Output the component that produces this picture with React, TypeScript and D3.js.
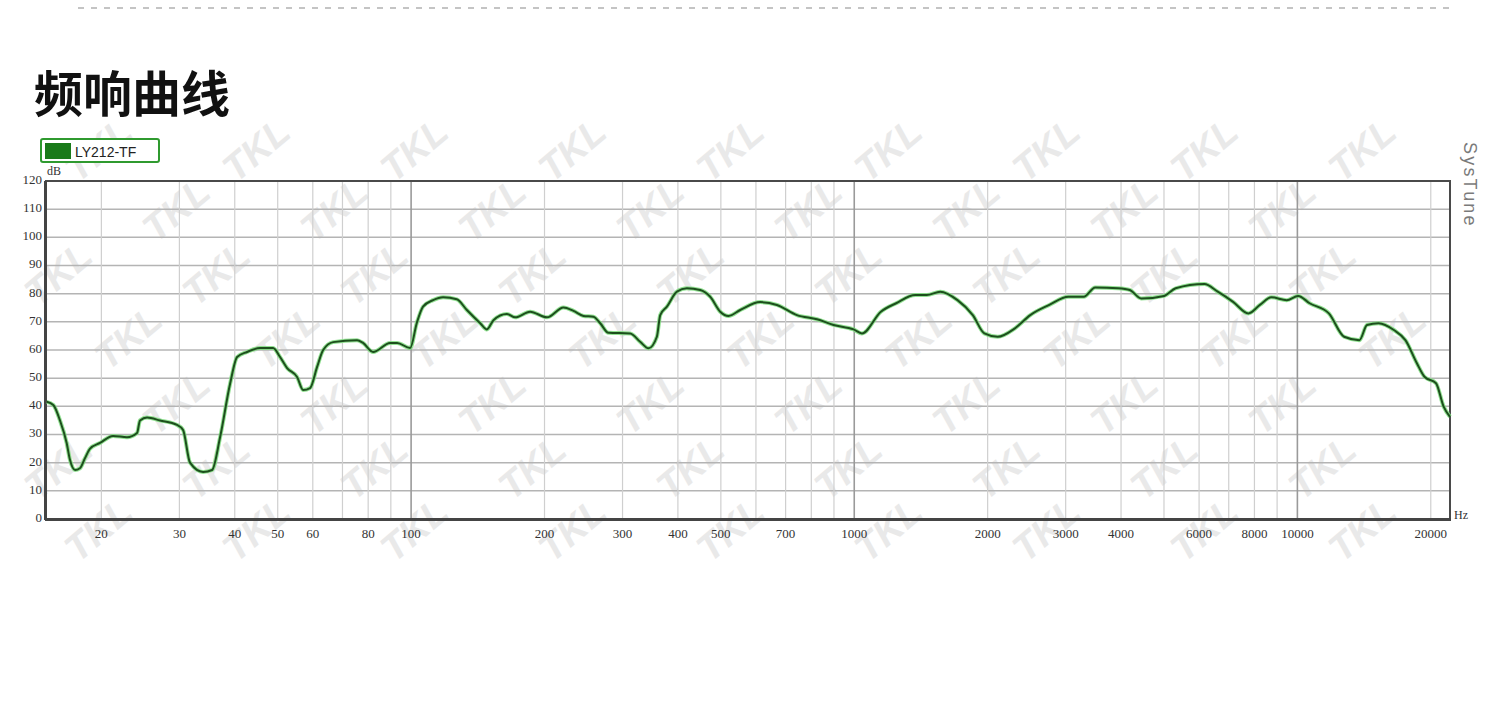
import React from "react";
import * as d3 from "d3";

// ---- data ----
const FREQ_HZ = [
  15.06, 15.58, 16.13, 16.7, 16.99, 17.44, 17.89, 18.37, 18.86, 19.86, 21.25, 22.85, 24.07, 24.45, 25.36,
  27.13, 29.64, 30.58, 31.7, 33.93, 35.55, 37.06, 39.04, 40.49, 42.64, 45.62, 48.82, 50.62, 52.5, 55.3,
  57.05, 59.16, 61.36, 63.32, 66.68, 75.53, 77.91, 82.07, 89.66, 92.99, 99.5, 103.0, 106.4, 112.1, 118.1,
  126.8, 133.6, 143.2, 148.2, 153.4, 164.4, 171.7, 185.6, 202.5, 220.7, 232.5, 244.9, 257.9, 267.1, 278.9,
  312.2, 328.8, 343.4, 358.6, 364.9, 377.8, 397.9, 419.1, 449.1, 473.1, 498.4, 520.5, 552.9, 613.5, 669.1,
  742.5, 823.9, 898.0, 996.4, 1040.9, 1148.4, 1243.4, 1373.3, 1457.9, 1563.6, 1710.0, 1851.3, 1966.3, 2106.9,
  2304.8, 2496.0, 2755.3, 3042.7, 3295.1, 3498.6, 3943.0, 4185.5, 4442.0, 5003.0, 5312.0, 6167.0, 6611.0,
  7160.0, 7752.0, 8230.0, 8737.0, 9460.0, 10040, 10654, 11776, 12750, 13804, 14360, 15247, 16510, 17530,
  18607, 19358, 20550, 21380, 22100,
];
const LEVEL_DB = [
  41.6, 40.5, 35, 27, 21, 17.4, 18, 21.6, 25, 27, 29.5, 29, 30.5, 35, 36,
  35, 33.4, 31.6, 20, 16.7, 17.4, 29, 48, 57.5, 59.3, 60.7, 60.7, 57.5, 53.6, 50.4,
  45.8, 46.5, 54, 60, 62.8, 63.5, 62.5, 59.3, 62.5, 62.5, 60.7, 69.6, 75.4, 77.7, 78.7,
  78, 74.2, 69.5, 67.3, 70.6, 72.8, 71.6, 73.6, 71.6, 75.1, 73.9, 72.1, 71.8, 69.5, 66.1,
  65.9, 62.9, 60.6, 64.7, 72.4, 75.4, 80.7, 81.9, 81.3, 78.9, 73.6, 72.1, 74.2, 77, 76,
  72.4, 70.9, 68.9, 67.3, 65.9, 73.6, 76.6, 79.5, 79.5, 80.7, 77.7, 72.4, 65.9, 64.7,
  67.7, 72.4, 76, 78.9, 78.9, 82.2, 81.9, 81.3, 78.3, 79.2, 81.9, 83.4, 80.7,
  77.1, 73, 76, 78.7, 77.7, 79.2, 76.6, 73, 64.7, 63.5, 68.9, 69.5, 67.1, 63.5,
  55.3, 50.5, 48.2, 39.9, 36.3,
];
const X_TICK_LABELS = [20, 30, 40, 50, 60, 80, 100, 200, 300, 400, 500, 700, 1000, 2000, 3000, 4000, 6000, 8000, 10000, 20000];
const Y_TICKS = [0, 10, 20, 30, 40, 50, 60, 70, 80, 90, 100, 110, 120];
const X_GRID = [20, 30, 40, 50, 60, 70, 80, 90, 100, 200, 300, 400, 500, 600, 700, 800, 900, 1000, 2000, 3000, 4000, 5000, 6000, 7000, 8000, 9000, 10000, 20000];
const X_MAJOR = [100, 1000, 10000];
const SERIES_NAME = "LY212-TF";
const TITLE = "频响曲线";

// ---- layout ----
const W = 1500;
const H = 728;
const PL = 46, PR = 1450, PT = 181, PB = 519;

const xScale = d3.scaleLog().domain([15, 22100]).range([PL, PR]);
const yScale = d3.scaleLinear().domain([0, 120]).range([PB, PT]);

const WM_ROWS_Y = [152, 212, 276, 340, 405, 470, 532];
const WM_ROW_OFF = [100, 20, 60, 130, 20, 60, 100];

export default function App() {
  const pts: [number, number][] = FREQ_HZ.map((f, i) => [f, LEVEL_DB[i]]);
  const line = d3
    .line<[number, number]>()
    .x((d) => xScale(d[0]))
    .y((d) => yScale(d[1]))
    .curve(d3.curveMonotoneX);
  const path = line(pts) || "";

  const watermarks: { x: number; y: number }[] = [];
  WM_ROWS_Y.forEach((y, r) => {
    for (let x = WM_ROW_OFF[r]; x < W; x += 158) {
      if (x > 40 && x < 1440) watermarks.push({ x, y });
    }
  });

  const serif = "'Liberation Serif', 'DejaVu Serif', serif";
  const sans = "'Liberation Sans', Arial, sans-serif";

  return (
    <svg
      width={W}
      height={H}
      viewBox={`0 0 ${W} ${H}`}
      style={{ position: "absolute", left: 0, top: 0, background: "#fff" }}
    >
      <rect x={0} y={0} width={W} height={H} fill="#fff" />
      {/* top dashed separator */}
      <line x1={78} x2={1450} y1={8} y2={8} stroke="#c4c4c4" strokeWidth={2} strokeDasharray="6 7" />

      {/* title */}
      <text x={34} y={112} fontFamily="'Noto Sans CJK SC', sans-serif" fontWeight={700} fontSize={49} fill="#111">
        {TITLE}
      </text>

      {/* watermark */}
      <g fill="#e9e9e9" fontFamily={sans} fontWeight={700} fontSize={38} fontStyle="italic">
        {watermarks.map((w, i) => (
          <text key={i} x={w.x} y={w.y} textAnchor="middle" dominantBaseline="middle" transform={`rotate(-40 ${w.x} ${w.y})`}>
            TKL
          </text>
        ))}
      </g>

      {/* grid */}
      <g>
        {Y_TICKS.filter((t) => t > 0 && t < 120).map((t) => (
          <line key={t} x1={PL} x2={PR} y1={yScale(t)} y2={yScale(t)} stroke="#b4b4b4" strokeWidth={1.5} />
        ))}
        {X_GRID.map((f) => (
          <line
            key={f}
            x1={xScale(f)}
            x2={xScale(f)}
            y1={PT}
            y2={PB}
            stroke={X_MAJOR.includes(f) ? "#9a9a9a" : "#cfcfcf"}
            strokeWidth={X_MAJOR.includes(f) ? 1.6 : 1.2}
          />
        ))}
      </g>

      {/* plot frame */}
      <rect x={PL} y={PT} width={PR - PL} height={PB - PT} fill="none" stroke="#4a4a4a" strokeWidth={2} />
      <line x1={PL - 1} x2={PR + 1} y1={PB + 0.5} y2={PB + 0.5} stroke="#444" strokeWidth={3} />
      <line x1={PL - 0.5} x2={PL - 0.5} y1={PT} y2={PB + 1} stroke="#444" strokeWidth={3} />

      {/* curve */}
      <path d={path} fill="none" stroke="#7fdc7f" strokeWidth={4} strokeLinejoin="round" opacity={0.85} />
      <path d={path} fill="none" stroke="#1d4f1d" strokeWidth={2} strokeLinejoin="round" />

      {/* y tick labels */}
      <g fontFamily={serif} fontSize={13} fill="#333">
        {Y_TICKS.map((t) => (
          <text key={t} x={42} y={yScale(t)} textAnchor="end" dominantBaseline="middle">
            {t}
          </text>
        ))}
        <text x={47} y={175} fontSize={12}>dB</text>
      </g>

      {/* x tick labels */}
      <g fontFamily={serif} fontSize={13} fill="#333">
        {X_TICK_LABELS.map((f) => (
          <text key={f} x={xScale(f)} y={538} textAnchor="middle">
            {f}
          </text>
        ))}
        <text x={1454} y={519} fontSize={12}>Hz</text>
      </g>

      {/* SysTune */}
      <text
        x={1464}
        y={142}
        fontFamily={sans}
        fontSize={18}
        letterSpacing={2.2}
        fill="#7a7a7a"
        transform="rotate(90 1464 142)"
      >
        SysTune
      </text>

      {/* legend */}
      <g>
        <rect x={41} y={139} width={118} height={23} rx={2} fill="#fff" stroke="#2f9a2f" strokeWidth={2} />
        <rect x={45} y={143} width={26} height={16} fill="#1a7a1a" />
        <text x={75} y={156.5} fontFamily={sans} fontSize={14} fill="#222">
          {SERIES_NAME}
        </text>
      </g>
    </svg>
  );
}
